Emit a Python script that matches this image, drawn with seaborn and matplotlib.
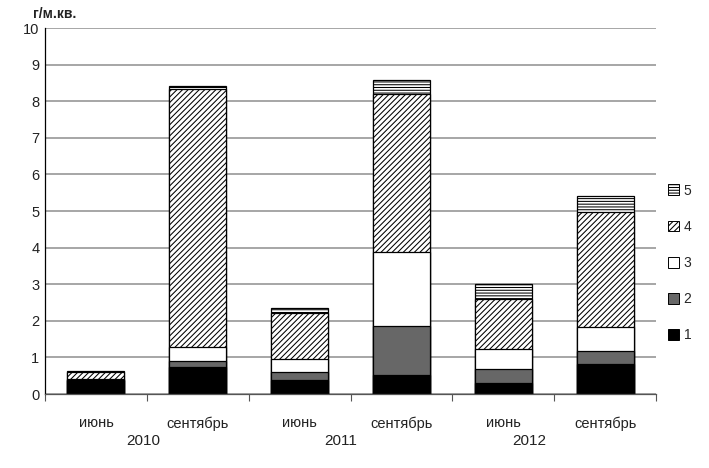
import numpy as np
import pandas as pd
import matplotlib
matplotlib.use("Agg")
import matplotlib.pyplot as plt
import seaborn as sns
from matplotlib.patches import Patch

# Данные (г/м.кв.), слои 1..5 снизу вверх
months = ["июнь", "сентябрь", "июнь", "сентябрь", "июнь", "сентябрь"]
years = ["2010", "2011", "2012"]
layer_names = ["1", "2", "3", "4", "5"]
layer1 = [0.38, 0.75, 0.38, 0.52, 0.29, 0.82]
layer2 = [0.00, 0.16, 0.23, 1.34, 0.39, 0.36]
layer3 = [0.02, 0.37, 0.34, 2.03, 0.55, 0.64]
layer4 = [0.20, 7.05, 1.27, 4.32, 1.38, 3.15]
layer5 = [0.02, 0.10, 0.12, 0.37, 0.41, 0.45]

cats = [f"{m}\n{i}" for i, m in enumerate(months)]
layers = np.array([layer1, layer2, layer3, layer4, layer5])
cum = np.cumsum(layers, axis=0)

styles = [
    dict(color="black", hatch=None),
    dict(color="#676767", hatch=None),
    dict(color="white", hatch=None),
    dict(color="white", hatch="//////"),
    dict(color="white", hatch="------"),
]

sns.set_theme(style="white")
plt.rcParams["font.family"] = ["Liberation Sans", "DejaVu Sans"]
plt.rcParams["hatch.linewidth"] = 0.75
plt.rcParams["hatch.color"] = "black"

fig = plt.figure(figsize=(7.09, 4.68), dpi=100)
ax = fig.add_axes([0.0635, 0.158, 0.862, 0.782])

# рисуем накопленные суммы сверху вниз, каждая перекрывает предыдущую
for k in range(4, -1, -1):
    df = pd.DataFrame({"cat": cats, "val": cum[k]})
    sns.barplot(data=df, x="cat", y="val", ax=ax, width=0.56,
                color=styles[k]["color"], saturation=1,
                edgecolor="black", linewidth=0.9, hatch=styles[k]["hatch"])

ax.set_ylim(0, 10)
ax.set_xlim(-0.5, 5.5)
ax.set_yticks(range(0, 11))
ax.yaxis.grid(True, color="#a6a6a6", linewidth=1.4)
ax.set_axisbelow(True)
for s in ["top", "right"]:
    ax.spines[s].set_visible(False)
ax.spines["left"].set_color("black")
ax.spines["bottom"].set_color("#555555")
ax.spines["left"].set_linewidth(0.9)
ax.spines["bottom"].set_linewidth(0.9)

ax.set_xticks(range(6))
ax.set_xticklabels(months, fontsize=10.5, color="#222222")
ax.set_xticks(np.arange(-0.5, 6.0, 1.0), minor=True)
ax.tick_params(axis="x", which="major", length=0, pad=16)
ax.tick_params(axis="x", which="minor", length=5, color="#555555", width=0.8, bottom=True)
ax.tick_params(axis="y", labelsize=10.5, length=0, pad=4, labelcolor="#222222")
ax.set_xlabel("")
ax.set_ylabel("")

for x, y in zip([0.46, 2.4, 4.25], years):
    ax.text(x, -1.28, y, ha="center", va="center", fontsize=11, color="#222222")

ax.text(0.015, 1.038, "г/м.кв.", transform=ax.transAxes, ha="center", va="center",
        fontsize=10, fontweight="bold", color="#222222")

handles = [Patch(facecolor=styles[k]["color"], edgecolor="black", linewidth=0.7,
                 hatch=styles[k]["hatch"], label=layer_names[k]) for k in range(4, -1, -1)]
fig.legend(handles=handles, loc="center left", bbox_to_anchor=(0.925, 0.438),
           frameon=False, fontsize=10, labelspacing=1.6, handlelength=0.8,
           handleheight=0.8, handletextpad=0.3)

fig.savefig("out.png", dpi=100)
